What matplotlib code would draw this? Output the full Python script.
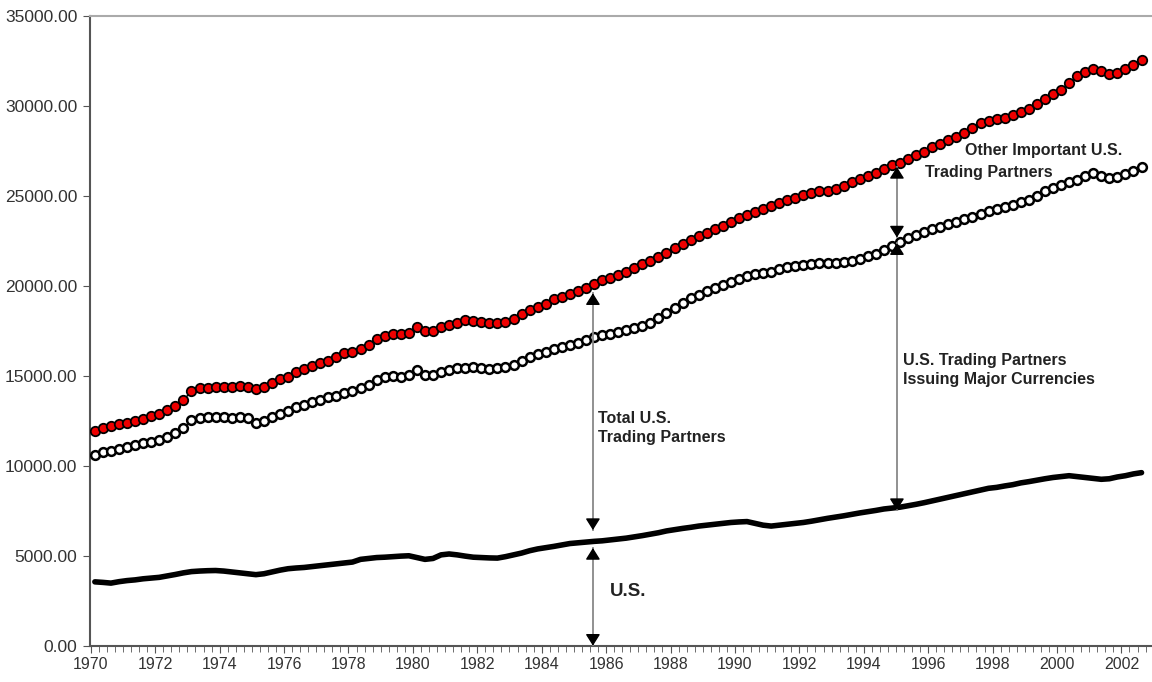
import numpy as np
import matplotlib
matplotlib.use("Agg")
import matplotlib.pyplot as plt
from matplotlib.ticker import MultipleLocator, FormatStrFormatter

plt.rcParams['font.family'] = ['Liberation Sans', 'DejaVu Sans']

# quarterly series, 1970Q1 .. 2002Q3
total = [
    11950, 12080, 12200, 12300,  12400, 12500, 12620, 12750,
    12900, 13100, 13350, 13650,  14150, 14300, 14350, 14380,
    14400, 14380, 14420, 14380,  14260, 14400, 14600, 14800,
    14950, 15200, 15400, 15550,  15700, 15850, 16050, 16250,
    16350, 16500, 16700, 17040,  17200, 17300, 17350, 17400,
    17710, 17480, 17480, 17710,  17800, 17950, 18090, 18050,
    18000, 17950, 17930, 18000,  18150, 18450, 18650, 18850,
    19000, 19250, 19400, 19550,  19700, 19900, 20100, 20300,
    20450, 20600, 20800, 21000,  21200, 21400, 21600, 21850,
    22100, 22350, 22550, 22750,  22950, 23150, 23350, 23550,
    23750, 23950, 24100, 24250,  24450, 24600, 24750, 24900,
    25040, 25150, 25250, 25300,  25400, 25550, 25760, 25950,
    26100, 26300, 26500, 26700,  26850, 27050, 27250, 27450,
    27700, 27900, 28100, 28300,  28500, 28800, 29050, 29150,
    29250, 29350, 29480, 29650,  29850, 30100, 30400, 30650,
    30900, 31300, 31650, 31900,  32050, 31950, 31750, 31850,
    32050, 32300, 32550,
]
major = [
    10600, 10750, 10850, 10950,  11050, 11150, 11250, 11320,
    11450, 11600, 11800, 12090,  12550, 12650, 12700, 12700,
    12720, 12680, 12720, 12650,  12400, 12500, 12700, 12900,
    13050, 13250, 13400, 13550,  13650, 13800, 13900, 14050,
    14150, 14300, 14500, 14760,  14950, 15000, 14950, 15050,
    15320, 15050, 15040, 15210,  15350, 15430, 15450, 15480,
    15450, 15400, 15450, 15480,  15600, 15800, 16040, 16200,
    16350, 16480, 16590, 16700,  16850, 17000, 17150, 17250,
    17350, 17450, 17550, 17650,  17750, 17950, 18200, 18500,
    18780, 19050, 19300, 19500,  19700, 19870, 20050, 20200,
    20400, 20550, 20650, 20700,  20800, 20950, 21050, 21100,
    21150, 21200, 21250, 21250,  21300, 21320, 21400, 21500,
    21650, 21800, 22000, 22200,  22450, 22650, 22850, 23000,
    23150, 23300, 23450, 23550,  23700, 23850, 24000, 24150,
    24300, 24400, 24500, 24650,  24800, 25000, 25250, 25450,
    25600, 25750, 25900, 26100,  26250, 26100, 25980, 26050,
    26200, 26400, 26600,
]
us = [
    3550, 3520, 3480, 3560,  3620, 3660, 3720, 3760,
    3800, 3880, 3960, 4050,  4120, 4150, 4170, 4180,
    4150, 4100, 4050, 4000,  3950, 4000, 4100, 4200,
    4280, 4320, 4350, 4400,  4450, 4500, 4550, 4600,
    4650, 4800, 4850, 4900,  4920, 4950, 4980, 5000,
    4900, 4800, 4850, 5050,  5100, 5050, 4980, 4920,
    4900, 4880, 4870, 4950,  5050, 5150, 5280, 5380,
    5450, 5520, 5600, 5680,  5720, 5760, 5800, 5830,
    5880, 5930, 5980, 6050,  6120, 6200, 6280, 6380,
    6450, 6520, 6580, 6650,  6700, 6750, 6800, 6850,
    6880, 6900, 6800, 6700,  6650, 6700, 6750, 6800,
    6850, 6920, 7000, 7080,  7150, 7220, 7300, 7380,
    7450, 7520, 7600, 7650,  7700, 7780, 7860, 7950,
    8050, 8150, 8250, 8350,  8450, 8550, 8650, 8750,
    8800, 8880, 8950, 9050,  9120, 9200, 9280, 9350,
    9400, 9450, 9400, 9350,  9300, 9250, 9280, 9380,
    9450, 9550, 9620,
]

t = 1970.125 + np.arange(len(total)) / 4.0

fig = plt.figure(figsize=(11.52, 6.82), dpi=100)
ax = fig.add_axes([0.078, 0.0532, 0.922, 0.9233])

ax.plot(t, us, color="black", lw=4, solid_capstyle="round", zorder=3)
ax.plot(t, major, color="black", lw=1, marker="o", markersize=6.3,
        markerfacecolor="white", markeredgecolor="black", markeredgewidth=1.8,
        zorder=4)
ax.plot(t, total, color="black", lw=1, marker="o", markersize=6.8,
        markerfacecolor="#ee0000", markeredgecolor="black", markeredgewidth=1.3,
        zorder=5)


def darrow(x, top, bottom):
    # gray shaft with black heads at both ends
    ax.plot([x, x], [top, bottom], color="#888888", lw=1.3, zorder=6)
    style = "-|>,head_length=0.35,head_width=0.22"
    for tip, back in ((top, top - 450), (bottom, bottom + 450)):
        ax.annotate("", xy=(x, tip), xytext=(x, back),
                    arrowprops=dict(arrowstyle=style, color="black", lw=1,
                                    shrinkA=0, shrinkB=0, mutation_scale=20),
                    zorder=7)


darrow(1985.59, 19590, 6430)
darrow(1985.59, 5430, 0)
darrow(1995.03, 26610, 22690)
darrow(1995.03, 22370, 7540)

tk = dict(fontsize=11.5, fontweight="bold", color="#222222", zorder=8)
ax.text(1985.75, 12090, "Total U.S.\nTrading Partners", ha="left", va="center",
        linespacing=1.3, **tk)
ax.text(1986.12, 3040, "U.S.", ha="left", va="center",
        fontsize=13.5, fontweight="bold", color="#222222")
ax.text(1997.14, 27500, "Other Important U.S.", ha="left", va="center", **tk)
ax.text(1995.90, 26330, "Trading Partners", ha="left", va="center", **tk)
ax.text(1995.22, 15320, "U.S. Trading Partners\nIssuing Major Currencies",
        ha="left", va="center", linespacing=1.3, **tk)

ax.set_xlim(1969.97, 2002.95)
ax.set_ylim(0, 35000)
ax.xaxis.set_major_locator(MultipleLocator(2))
ax.xaxis.set_minor_locator(MultipleLocator(0.25))
ax.xaxis.set_major_formatter(FormatStrFormatter("%d"))
ax.yaxis.set_major_locator(MultipleLocator(5000))
ax.yaxis.set_major_formatter(FormatStrFormatter("%.2f"))

ax.spines["right"].set_visible(False)
ax.spines["top"].set_color("#aaaaaa")
ax.spines["top"].set_linewidth(1.5)
ax.spines["left"].set_color("#555555")
ax.spines["bottom"].set_color("#555555")
ax.spines["left"].set_linewidth(1.5)
ax.spines["bottom"].set_linewidth(1.5)

ax.tick_params(axis="both", which="both", direction="out", color="#555555",
               labelcolor="#333333")
ax.tick_params(axis="x", which="major", length=5, labelsize=11.5, pad=3)
ax.tick_params(axis="x", which="minor", length=4)
ax.tick_params(axis="y", which="major", length=5, labelsize=12.5, pad=4)

fig.savefig("out.png", dpi=100)
